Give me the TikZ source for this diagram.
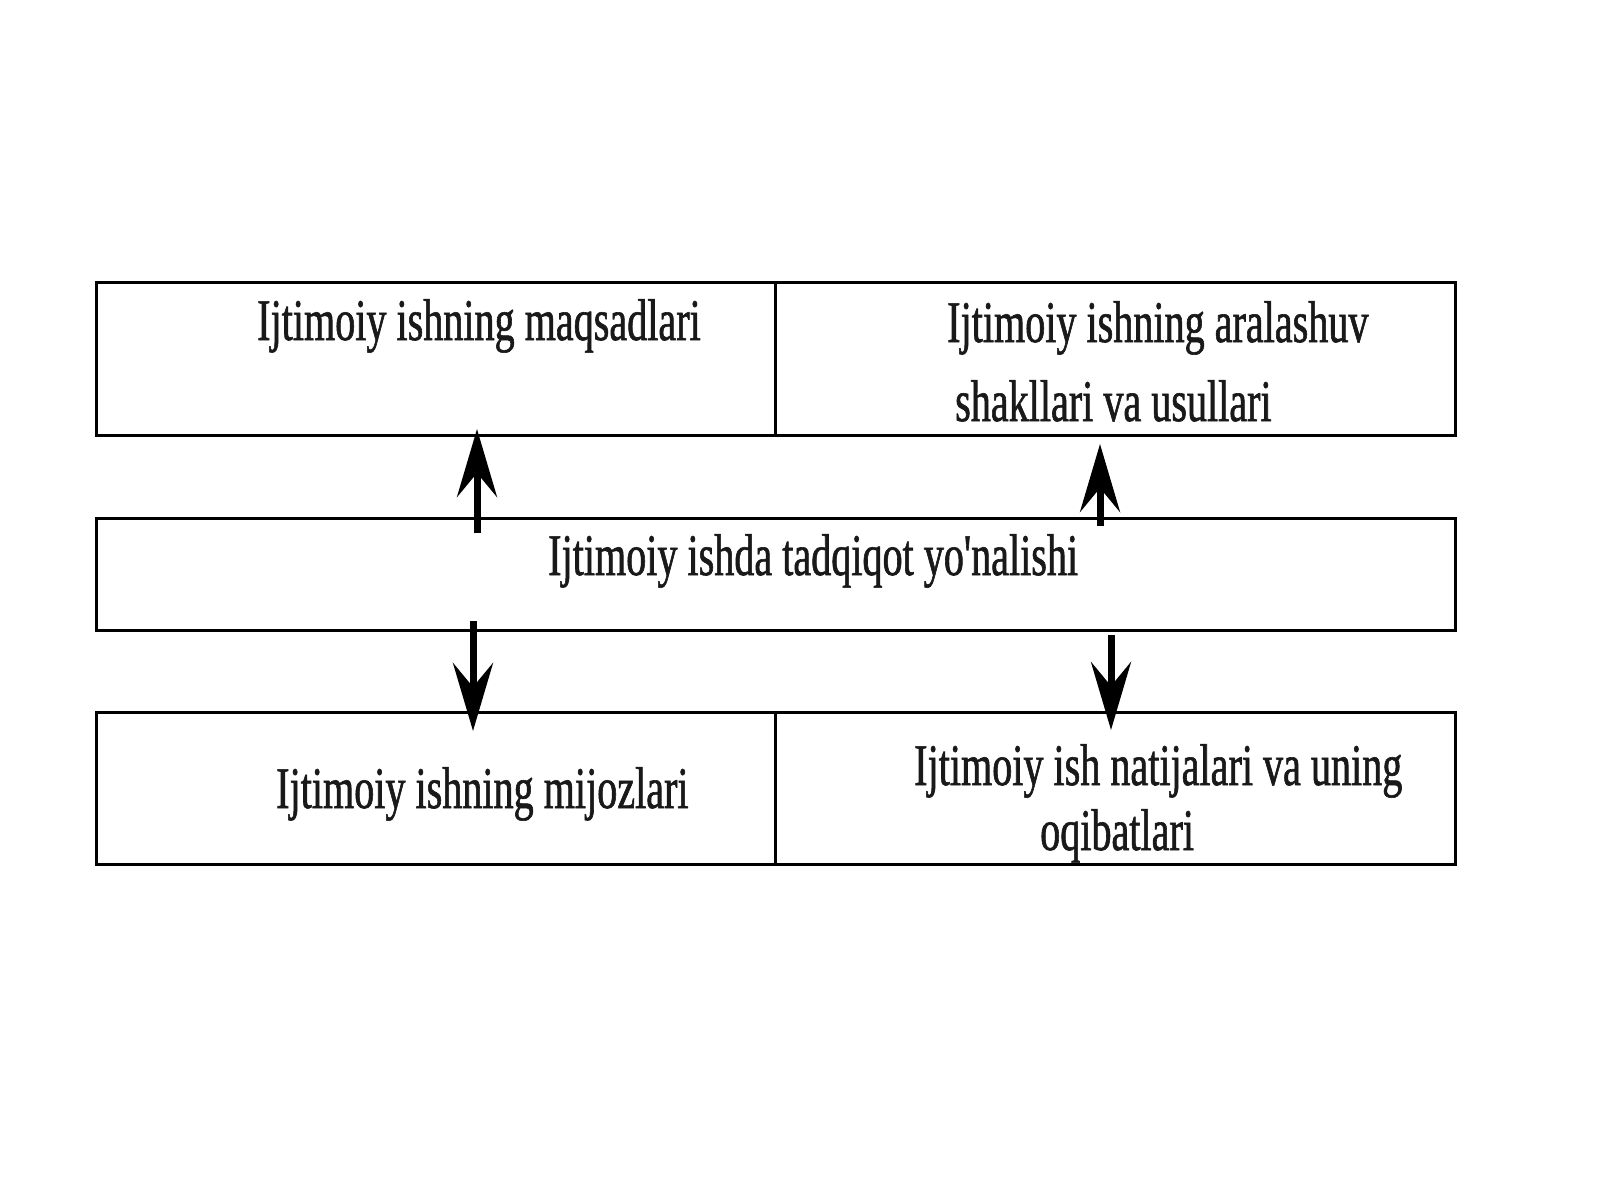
\documentclass[tikz,border=0pt]{standalone}
\usepackage{fontspec}
\setmainfont{Liberation Serif}
\newfontfamily\boxfont[FakeStretch=0.68,FakeBold=1]{Liberation Serif}
\usetikzlibrary{arrows.meta}
\tikzset{
  boxnode/.style={draw=black, line width=3pt, rectangle, inner sep=0pt, outer sep=0pt, fill=none},
  label/.style={anchor=base west, inner sep=0pt, font=\boxfont\fontsize{59}{60}\selectfont, text=black!90},
  bigarrow/.style={line width=7pt, -{Stealth[length=68pt,width=40pt,inset=24pt]}},
}
\begin{document}
\begin{tikzpicture}[x=1pt,y=-1pt]
\useasboundingbox (0,0) rectangle (1600,1200);
\fill[white] (0,0) rectangle (1600,1200);
% boxes
\node[boxnode, minimum width=679pt, minimum height=153pt] (tl) at (435.5,358.5) {};
\node[boxnode, minimum width=680pt, minimum height=153pt] (tr) at (1115,358.5) {};
\node[boxnode, minimum width=1359pt, minimum height=112pt] (mid) at (775.5,574) {};
\node[boxnode, minimum width=679pt, minimum height=152pt] (bl) at (435.5,788) {};
\node[boxnode, minimum width=680pt, minimum height=152pt] (br) at (1115,788) {};
% texts
\node[label] (t1) at (257,340) {Ijtimoiy ishning maqsadlari};
\node[label] (t2a) at (947,342) {Ijtimoiy ishning aralashuv};
\node[label] (t2b) at (955,421) {shakllari va usullari};
\node[label] (t3) at (548,575) {Ijtimoiy ishda tadqiqot yo'nalishi};
\node[label] (t4) at (276,808) {Ijtimoiy ishning mijozlari};
\node[label] (t5a) at (914,785) {Ijtimoiy ish natijalari va uning};
\node[label] (t5b) at (1040,850) {oqibatlari};
% arrow endpoints
\coordinate (a1s) at (477,533);
\coordinate (a1e) at (477,429);
\coordinate (a2s) at (1100,526);
\coordinate (a2e) at (1100,444);
\coordinate (a3s) at (473,621);
\coordinate (a3e) at (473,731);
\coordinate (a4s) at (1111,635);
\coordinate (a4e) at (1111,730);
\draw[bigarrow] (a1s) -- (a1e);
\draw[bigarrow] (a2s) -- (a2e);
\draw[bigarrow] (a3s) -- (a3e);
\draw[bigarrow] (a4s) -- (a4e);
\end{tikzpicture}
\end{document}
